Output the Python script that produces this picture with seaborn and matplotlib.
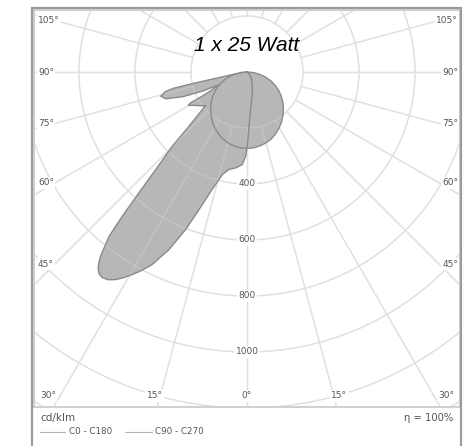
import numpy as np
import pandas as pd
import matplotlib
matplotlib.use("Agg")
import matplotlib.pyplot as plt
import seaborn as sns
from matplotlib.patches import Rectangle, Circle
from matplotlib.lines import Line2D

# luminous intensity (cd/klm) against gamma angle (deg from nadir)
# C0 - C180 plane: C180 half (left) and C0 half (right)
c180_angles = [0, 0.9, 2.9, 6.7, 10.5, 13.5, 16.5, 19.2, 21.3, 23.7, 26.2, 28.0, 29.5,
               31.0, 32.3, 33.7, 35.1, 36.2, 37.0, 37.8, 38.5, 40.0, 40.85, 41.8, 43.1,
               45.2, 46.9, 50.0, 50.9, 54.0, 56.9, 60.5, 61.3, 61.6, 62.8, 65.6, 66.8,
               69.0, 71.8, 74.3, 76.5, 77.5, 78.0, 78.5, 80, 84, 90]
c180_values = [270, 301, 331, 345, 354, 377, 437, 520, 604, 692, 766, 803, 831,
               857, 877, 892, 898, 894, 883, 864, 840, 766, 681, 579, 477,
               376, 283, 208, 190, 205, 219, 241, 229, 181, 145, 110, 174,
               247, 306, 320, 300, 270, 200, 120, 50, 15, 0]
c0_angles = [0, 0.2, 2.1, 5, 9.7, 14, 20.5, 30, 41, 60, 90]
c0_values = [270, 265, 194, 140, 100, 78, 54, 34, 20, 6, 0]

# C90 - C270 plane (symmetric)
c90_angles = [0, 5, 10, 15, 20, 25, 30, 35, 40, 45, 50, 55, 60, 65, 70, 75, 80, 85, 90]
c90_values = [273, 272, 268, 262, 254, 243, 230, 216, 200, 184, 167, 149, 130, 110, 89,
              67, 45, 22, 0]

ring_values = [200, 400, 600, 800, 1000, 1200, 1400, 1600]
ring_labels = ["400", "600", "800", "1000"]
side_angles = [105, 90, 75, 60, 45]
bottom_angles = [-30, -15, 0, 15, 30]

W, H = 477, 446
s = 200 / 56.0          # cd/klm per pixel
cx, cy = 247, 72        # centre of the diagram in pixels

fill_col = "#b6b7b8"
edge_col = "#8a8a8a"
grid_col = "#e0e0e0"
txt_col = "#555555"

sns.set_style("white")
plt.rcParams["font.family"] = ["DejaVu Sans"]


def to_xy(angles, values, side):
    a = np.radians(np.asarray(angles, dtype=float))
    v = np.asarray(values, dtype=float)
    return side * v * np.sin(a), -v * np.cos(a)


# closed outline for C0 - C180: right half from 90 down to 0, then left half 0 -> 90
xr, yr = to_xy(c0_angles[::-1], c0_values[::-1], 1)
xl, yl = to_xy(c180_angles, c180_values, -1)
lobe = pd.DataFrame({"x": np.r_[xr, xl], "y": np.r_[yr, yl]})

xr2, yr2 = to_xy(c90_angles[::-1], c90_values[::-1], 1)
xl2, yl2 = to_xy(c90_angles, c90_values, -1)
circ = pd.DataFrame({"x": np.r_[xr2, xl2], "y": np.r_[yr2, yl2]})

fig = plt.figure(figsize=(W / 100, H / 100), dpi=100)
ax = fig.add_axes([34 / W, 1 - 407 / H, 426 / W, 397 / H])
ax.set_xlim(-(cx - 34) * s, (460 - cx) * s)
ax.set_ylim(-(407 - cy) * s, (cy - 10) * s)


def draw_grid(z, alpha):
    for r in ring_values:
        ax.add_patch(Circle((0, 0), r, fill=False, ec=grid_col, lw=1, zorder=z, alpha=alpha))
    for g in range(0, 360, 15):
        t = np.radians(g)
        ax.plot([200 * np.sin(t), 2000 * np.sin(t)], [-200 * np.cos(t), -2000 * np.cos(t)],
                color=grid_col, lw=1, zorder=z, alpha=alpha)


draw_grid(1, 1.0)

ax.fill(lobe["x"], lobe["y"], color=fill_col, lw=0, zorder=2)
ax.fill(circ["x"], circ["y"], color=fill_col, lw=0, zorder=2)
draw_grid(3, 0.3)
sns.lineplot(data=lobe, x="x", y="y", sort=False, estimator=None, color=edge_col,
             lw=1, ax=ax, zorder=4)
sns.lineplot(data=circ, x="x", y="y", sort=False, estimator=None, color=edge_col,
             lw=1, ax=ax, zorder=4)

# ring labels on the nadir axis
for lab in ring_labels:
    ax.text(0, -float(lab), lab, ha="center", va="center", fontsize=6.5, color=txt_col,
            zorder=6, bbox=dict(boxstyle="square,pad=0.15", fc="white", ec="none"))

# angle labels on the sides
for g in side_angles:
    dy = (cx - 55) / np.tan(np.radians(g))
    for side in (-1, 1):
        xp = 38 if side < 0 else 458
        ax.text((xp - cx) * s, -dy * s, f"{g}°", ha="left" if side < 0 else "right",
                va="center", fontsize=6.5, color=txt_col, zorder=6,
                bbox=dict(boxstyle="square,pad=0.15", fc="white", ec="none"))

# angle labels at the bottom
for g in bottom_angles:
    ax.text(345 * np.tan(np.radians(g)) * s, -(396 - cy) * s, f"{abs(g)}°", ha="center",
            va="center", fontsize=6.5, color=txt_col, zorder=6,
            bbox=dict(boxstyle="square,pad=0.15", fc="white", ec="none"))

ax.text(0, (cy - 45) * s, "1 x 25 Watt", ha="center", va="center", fontsize=15,
        style="italic", family="Liberation Sans", color="black", zorder=7)

ax.set_xticks([])
ax.set_yticks([])
ax.set_xlabel("")
ax.set_ylabel("")
for k, sp in ax.spines.items():
    sp.set_color("#c8c8c8")
    sp.set_linewidth(1.2)

# outer frame
fig.add_artist(Rectangle((32 / W, -0.05), (461 - 32) / W, 1 - 8 / H + 0.05,
                         transform=fig.transFigure, fill=False, ec="#9c9c9c", lw=1.6))

# legend strip
fig.text(40 / W, 1 - 418 / H, "cd/klm", ha="left", va="center", fontsize=7.5, color=txt_col)
fig.text(453 / W, 1 - 418 / H, "η = 100%", ha="right", va="center", fontsize=7.2,
         color=txt_col)
yl_ = 1 - 431.5 / H
fig.add_artist(Line2D([40 / W, 65 / W], [yl_, yl_], color="#b4b4b4", lw=0.8))
fig.text(69 / W, yl_, "C0 - C180", ha="left", va="center", fontsize=6.3, color=txt_col)
fig.add_artist(Line2D([125 / W, 152 / W], [yl_, yl_], color="#b4b4b4", lw=0.8))
fig.text(155 / W, yl_, "C90 - C270", ha="left", va="center", fontsize=6.3, color=txt_col)

fig.savefig("out.png", dpi=100, facecolor="white")
